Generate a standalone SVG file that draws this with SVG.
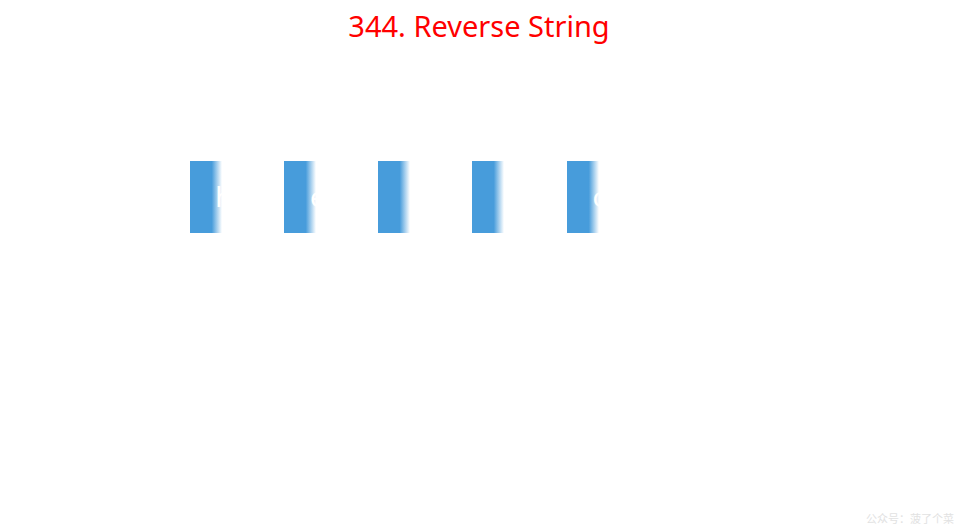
<svg xmlns="http://www.w3.org/2000/svg" width="958" height="529" viewBox="0 0 958 529">
  <style>
    .title { font-family: "Noto Sans", "Liberation Sans", sans-serif; font-size: 29px; fill: #ff0000; }
    .box { fill: url(#wipe); }
    .letter { font-family: "Noto Sans", "Liberation Sans", sans-serif; font-size: 28px; fill: #ffffff; text-anchor: middle; }
    .mark { font-family: "Noto Sans CJK SC", "Noto Sans", sans-serif; font-size: 11px; fill: #e2e2e2; }
  </style>
  <defs>
    <linearGradient id="wipe" x1="0" y1="0" x2="1" y2="0">
      <stop offset="0" stop-color="#479cdb"/>
      <stop offset="0.68" stop-color="#479cdb"/>
      <stop offset="1" stop-color="#479cdb" stop-opacity="0"/>
    </linearGradient>
    <clipPath id="c1"><rect x="190" y="161" width="32" height="72"/></clipPath>
    <clipPath id="c2"><rect x="284" y="161" width="32" height="72"/></clipPath>
    <clipPath id="c3"><rect x="378" y="161" width="32" height="72"/></clipPath>
    <clipPath id="c4"><rect x="472" y="161" width="32" height="72"/></clipPath>
    <clipPath id="c5"><rect x="567" y="161" width="32" height="72"/></clipPath>
  </defs>
  <rect width="958" height="529" fill="#ffffff"/>
  <text class="title" x="479" y="37" text-anchor="middle">344. Reverse String</text>
  <g id="node-h">
    <rect class="box" x="190" y="161" width="32" height="72"/>
    <text class="letter" x="224" y="207" clip-path="url(#c1)">h</text>
  </g>
  <g id="node-e">
    <rect class="box" x="284" y="161" width="32" height="72"/>
    <text class="letter" x="318" y="207" clip-path="url(#c2)">e</text>
  </g>
  <g id="node-l1">
    <rect class="box" x="378" y="161" width="32" height="72"/>
    <text class="letter" x="414" y="207" clip-path="url(#c3)">l</text>
  </g>
  <g id="node-l2">
    <rect class="box" x="472" y="161" width="32" height="72"/>
    <text class="letter" x="508" y="207" clip-path="url(#c4)">l</text>
  </g>
  <g id="node-o">
    <rect class="box" x="567" y="161" width="32" height="72"/>
    <text class="letter" x="601" y="207" clip-path="url(#c5)">o</text>
  </g>
  <g id="connectors"/>
  <text class="mark" x="866" y="523">公众号：菠了个菜</text>
</svg>
